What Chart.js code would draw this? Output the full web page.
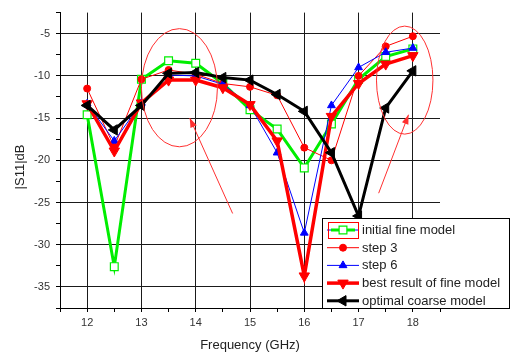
<!DOCTYPE html>
<html>
<head>
<meta charset="utf-8">
<script src="https://cdn.jsdelivr.net/npm/chart.js@4.4.1/dist/chart.umd.min.js"></script>
<style>
  html, body { margin: 0; padding: 0; background: #fff; }
  #wrap { width: 513px; height: 356px; position: relative; }
</style>
</head>
<body>
<div id="wrap"><canvas id="s11Chart"></canvas></div>
<script>
// frequency points (GHz)
const freq = [12, 12.5, 13, 13.5, 14, 14.5, 15, 15.5, 16, 16.5, 17, 17.5, 18];

// |S11| in dB
const initialFine = [-14.6, -32.6, -10.4, -8.2, -8.5, -10.9, -14.0, -16.3, -20.9, -15.7, -10.4, -7.7, -6.8];
const step3 = [-11.5, -18.4, -10.4, -9.3, -9.8, -10.9, -11.3, -12.3, -18.5, -20.0, -10.0, -6.5, -5.3];
const step6 = [-13.3, -17.7, -13.2, -9.9, -10.0, -11.0, -13.5, -19.1, -28.6, -13.5, -9.0, -7.2, -6.7];
const bestFine = [-13.3, -18.9, -13.2, -10.5, -10.5, -11.4, -13.4, -17.7, -33.7, -14.8, -10.9, -8.6, -7.6];
const optimalCoarse = [-13.5, -16.4, -13.5, -9.7, -9.6, -10.2, -10.5, -12.2, -14.2, -19.1, -26.6, -13.8, -9.4];

const seriesNames = ['initial fine model', 'step 3', 'step 6', 'best result of fine model', 'optimal coarse model'];

// x / y tick labels shown on the axes
const xTickLabels = [12, 13, 14, 15, 16, 17, 18];
const yTickLabels = [-35, -30, -25, -20, -15, -10, -5];
const yTitle = '|S11|dB';

// red ellipses and arrows drawn over the plot, in data units
const ellipses = [
  { cx: 13.7, cy: -11.4, rx: 0.7, ry: 7.0 },
  { cx: 17.85, cy: -10.5, rx: 0.52, ry: 6.4 }
];
const arrows = [
  { x1: 14.68, y1: -26.3, x2: 13.89, y2: -15.0 },
  { x1: 17.37, y1: -23.9, x2: 17.92, y2: -14.6 }
];

const pts = arr => arr.map((v, i) => ({ x: freq[i], y: v }));
const FONT = '"Liberation Sans", Arial, sans-serif';

const styles = [
  { color: '#00ee00', width: 3, point: 'rect', radius: 5.5, rot: 0, fill: '#ffffff', pbw: 1.2, order: 5 },
  { color: '#ff0000', width: 1, point: 'circle', radius: 3.5, rot: 0, fill: '#ff0000', pbw: 1, order: 4 },
  { color: '#0000ff', width: 1, point: 'triangle', radius: 4.5, rot: 0, fill: '#0000ff', pbw: 1, order: 3 },
  { color: '#ff0000', width: 3.5, point: 'triangle', radius: 6, rot: 180, fill: '#ff0000', pbw: 1, order: 2 },
  { color: '#000000', width: 3, point: 'triangle', radius: 6, rot: -90, fill: '#000000', pbw: 1, order: 1 }
];
const values = [initialFine, step3, step6, bestFine, optimalCoarse];

const datasets = values.map((v, i) => ({
  label: seriesNames[i],
  data: pts(v),
  borderColor: styles[i].color,
  borderWidth: styles[i].width,
  pointStyle: styles[i].point,
  pointRadius: styles[i].radius,
  pointRotation: styles[i].rot,
  pointBackgroundColor: styles[i].fill,
  pointBorderColor: styles[i].color,
  pointBorderWidth: styles[i].pbw,
  tension: 0,
  order: styles[i].order
}));

// annotations: ellipses + arrows
const annotatePlugin = {
  id: 'annotate',
  afterDatasetsDraw(chart) {
    const { ctx, scales: { x, y } } = chart;
    ctx.save();
    ctx.strokeStyle = '#ff3030';
    ctx.fillStyle = '#ff3030';
    ctx.lineWidth = 1;
    ellipses.forEach(e => {
      const px = x.getPixelForValue(e.cx), py = y.getPixelForValue(e.cy);
      const rx = Math.abs(x.getPixelForValue(e.cx + e.rx) - px);
      const ry = Math.abs(y.getPixelForValue(e.cy + e.ry) - py);
      ctx.beginPath();
      ctx.ellipse(px, py, rx, ry, 0, 0, Math.PI * 2);
      ctx.stroke();
    });
    arrows.forEach(a => {
      const x1 = x.getPixelForValue(a.x1), y1 = y.getPixelForValue(a.y1);
      const x2 = x.getPixelForValue(a.x2), y2 = y.getPixelForValue(a.y2);
      const ang = Math.atan2(y2 - y1, x2 - x1);
      ctx.beginPath();
      ctx.moveTo(x1, y1);
      ctx.lineTo(x2, y2);
      ctx.stroke();
      ctx.beginPath();
      ctx.moveTo(x2, y2);
      ctx.lineTo(x2 - 10 * Math.cos(ang - 0.35), y2 - 10 * Math.sin(ang - 0.35));
      ctx.lineTo(x2 - 10 * Math.cos(ang + 0.35), y2 - 10 * Math.sin(ang + 0.35));
      ctx.closePath();
      ctx.fill();
    });
    ctx.restore();
  }
};

// little marker shapes for the legend
function marker(ctx, s, cx, cy) {
  ctx.save();
  ctx.translate(cx, cy);
  ctx.rotate(s.rot * Math.PI / 180);
  ctx.fillStyle = s.fill;
  ctx.strokeStyle = s.color;
  ctx.lineWidth = s.pbw;
  const r = s.radius;
  ctx.beginPath();
  if (s.point === 'rect') {
    const h = r * Math.SQRT1_2;
    ctx.rect(-h, -h, 2 * h, 2 * h);
  } else if (s.point === 'circle') {
    ctx.arc(0, 0, r, 0, Math.PI * 2);
  } else {
    const e = 3 * r / Math.sqrt(3);
    const hh = e * Math.sqrt(3) / 2;
    ctx.moveTo(-e / 2, hh / 3);
    ctx.lineTo(e / 2, hh / 3);
    ctx.lineTo(0, -2 * hh / 3);
    ctx.closePath();
  }
  ctx.fill();
  ctx.stroke();
  ctx.restore();
}

const legendPlugin = {
  id: 'boxLegend',
  afterDraw(chart) {
    const ctx = chart.ctx;

    // y axis title, sits a bit below the middle of the plot like the original
    ctx.save();
    ctx.translate(20, 167);
    ctx.rotate(-Math.PI / 2);
    ctx.font = '13px ' + FONT;
    ctx.fillStyle = '#222';
    ctx.textAlign = 'center';
    ctx.textBaseline = 'middle';
    ctx.fillText(yTitle, 0, 0);
    ctx.restore();

    const left = 322, top = 218, w = 187, h = 90;
    ctx.save();
    ctx.fillStyle = '#fff';
    ctx.fillRect(left, top, w, h);
    ctx.strokeStyle = '#000';
    ctx.lineWidth = 1;
    ctx.strokeRect(left + 0.5, top + 0.5, w, h);
    ctx.font = '13px ' + FONT;
    ctx.textBaseline = 'middle';
    seriesNames.forEach((name, i) => {
      const s = styles[i];
      const yy = 230 + i * 17.7;
      if (i === 0) {
        ctx.strokeStyle = '#0000ff';
        ctx.lineWidth = 1;
        ctx.beginPath(); ctx.moveTo(327, yy); ctx.lineTo(359, yy); ctx.stroke();
        ctx.strokeStyle = s.color; ctx.lineWidth = 3;
        ctx.beginPath(); ctx.moveTo(331, yy); ctx.lineTo(355, yy); ctx.stroke();
      } else {
        ctx.strokeStyle = s.color;
        ctx.lineWidth = s.width;
        ctx.beginPath(); ctx.moveTo(327, yy); ctx.lineTo(359, yy); ctx.stroke();
      }
      marker(ctx, s, 343, yy);
      ctx.fillStyle = '#222';
      ctx.fillText(name, 362, yy + 0.5);
    });
    // Origin's selection box round the first sample
    ctx.strokeStyle = '#ff0000';
    ctx.lineWidth = 1;
    ctx.strokeRect(328.5, 222.5, 30, 16);
    ctx.restore();
  }
};

const ctx = document.getElementById('s11Chart').getContext('2d');
const s11Chart = new Chart(ctx, {
  type: 'line',
  data: { datasets },
  options: {
    responsive: true,
    maintainAspectRatio: false,
    animation: false,
    layout: { padding: { top: 7, right: 73, left: 0, bottom: 0 } },
    plugins: { legend: { display: false }, tooltip: { enabled: false } },
    scales: {
      x: {
        type: 'linear',
        min: 11.5,
        max: 18.5,
        afterFit(scale) { scale.height = 48; },
        ticks: {
          stepSize: 0.5,
          autoSkip: false,
          maxRotation: 0,
          padding: 4,
          color: '#333',
          font: { family: FONT, size: 11 },
          callback: v => xTickLabels.includes(v) ? v : ''
        },
        grid: {
          color: c => (c.tick && xTickLabels.includes(c.tick.value)) ? '#1a1a1a' : 'rgba(0,0,0,0)',
          tickColor: '#000',
          tickLength: 4
        },
        border: { display: true, color: '#000', width: 1 },
        title: {
          display: true,
          text: 'Frequency (GHz)',
          color: '#222',
          font: { family: FONT, size: 13 },
          padding: { top: 0, bottom: 3 }
        }
      },
      y: {
        type: 'linear',
        min: -37.5,
        max: -2.5,
        afterFit(scale) { scale.width = 60; },
        ticks: {
          stepSize: 2.5,
          autoSkip: false,
          padding: 6,
          color: '#333',
          font: { family: FONT, size: 11 },
          callback: v => yTickLabels.includes(v) ? v : ''
        },
        grid: {
          color: c => (c.tick && yTickLabels.includes(c.tick.value)) ? '#1a1a1a' : 'rgba(0,0,0,0)',
          tickColor: '#000',
          tickLength: 4
        },
        border: { display: true, color: '#000', width: 1 }
      }
    }
  },
  plugins: [annotatePlugin, legendPlugin]
});
</script>
</body>
</html>
